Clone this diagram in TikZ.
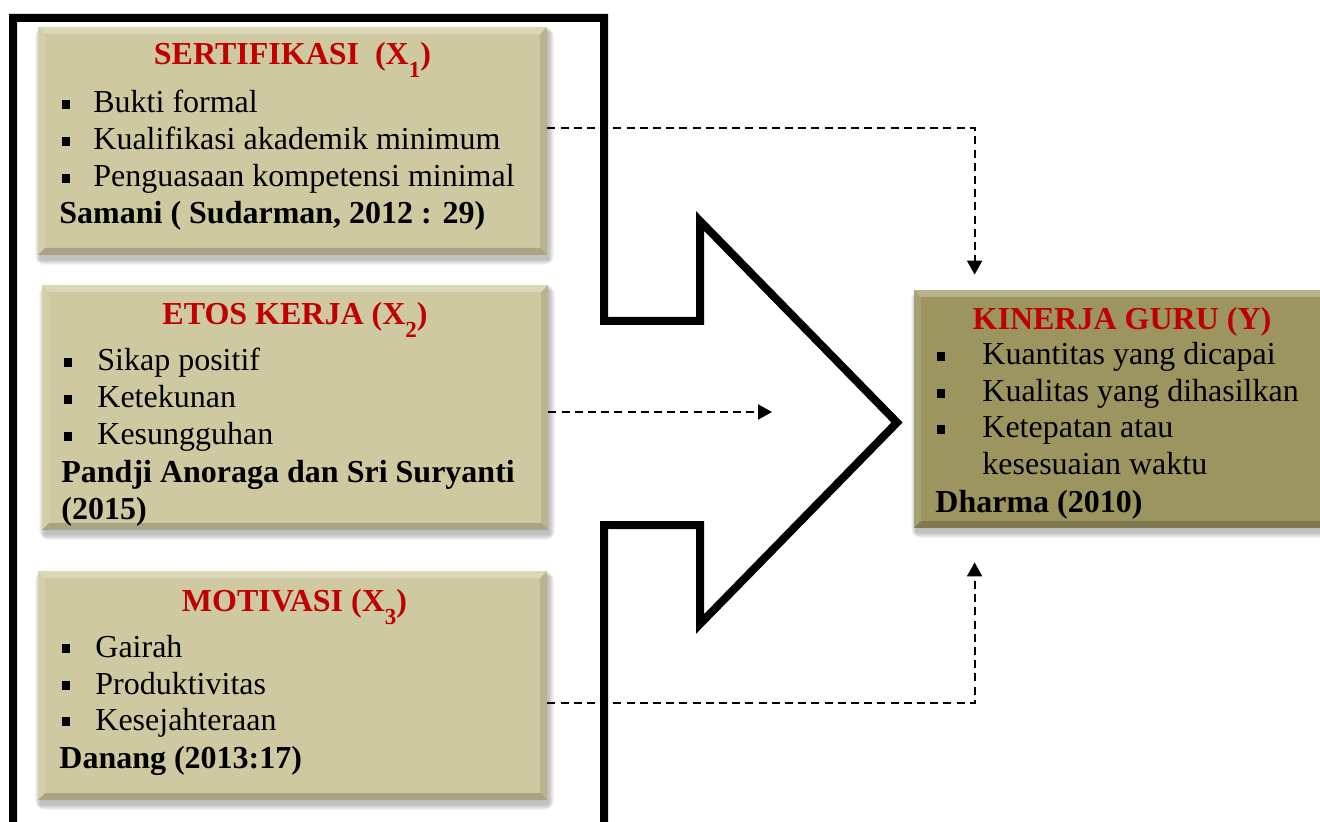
\documentclass[tikz,border=0pt]{standalone}
\usepackage{fontspec}
\setmainfont{Liberation Serif}
\usetikzlibrary{arrows.meta,calc,fit}
\definecolor{boxtan}{HTML}{CEC9A0}
\definecolor{boxolive}{HTML}{9C9560}
\definecolor{titlered}{HTML}{C00000}
\newcommand\sbx[1]{\raisebox{-6.5pt}{\fontsize{11.5pt}{11.5pt}\selectfont #1}}
\newcommand\itm[2]{\llap{\rule[2pt]{4.4pt}{4.4pt}\hspace{#1pt}}#2}
\newcommand\bevelbox[6]{%
  \foreach \k in {0,...,5}{\fill[black,opacity=0.045,rounded corners=\k pt] (#2+2-\k,#3+5-\k) rectangle (#4+2+\k,#5+5+\k);}
  \node[fit={(#2,#3)(#4,#5)},inner sep=0pt,fill=#6] (#1) {};
  \fill[white,opacity=0.28] (#2,#3) -- (#4,#3) -- (#4-7,#3+7) -- (#2+7,#3+7) -- cycle;
  \fill[white,opacity=0.12] (#2,#3) -- (#2+7,#3+7) -- (#2+7,#5-7) -- (#2,#5) -- cycle;
  \fill[black,opacity=0.18] (#2,#5) -- (#2+7,#5-7) -- (#4-7,#5-7) -- (#4,#5) -- cycle;
  \fill[black,opacity=0.10] (#4,#3) -- (#4,#5) -- (#4-7,#5-7) -- (#4-7,#3+7) -- cycle;
}
\tikzset{
  txt/.style={font=\fontsize{16pt}{19pt}\selectfont, inner sep=0pt, anchor=base west},
  cite/.style={font=\fontsize{16pt}{19pt}\selectfont\bfseries, inner sep=0pt, anchor=base west},
  ttl/.style={font=\fontsize{16pt}{19pt}\selectfont\bfseries, text=titlered, inner sep=0pt, anchor=base},
  conn/.style={line width=1pt, dash pattern=on 4pt off 2.6pt, -{Triangle[length=7pt,width=7.5pt]}},
  bigarrow/.style={line width=4pt, line join=miter}
}
\begin{document}
\begin{tikzpicture}[x=0.5pt,y=-0.5pt]
\useasboundingbox (0,0) rectangle (1320,822);
\clip (0,0) rectangle (1320,822);
\fill[white] (0,0) rectangle (1320,822);
% big block arrow outline
\draw[bigarrow] (13,840) -- (13,18) -- (604,18) -- (604,321) -- (700,321) -- (700,221)
  -- (897,422.5) -- (700,624) -- (700,525) -- (604,525) -- (604,840);
% boxes
\bevelbox{box1}{38}{27}{547}{255}{boxtan}
\bevelbox{box2}{42}{285}{548}{530}{boxtan}
\bevelbox{box3}{38}{571}{547}{800}{boxtan}
\bevelbox{ybox}{914}{290}{1330}{528}{boxolive}
% box 1
\node[ttl] (t1) at (292.5,65) {SERTIFIKASI\ \ (X\sbx{1})};
\node[txt] (a1) at (93,113) {\itm{11.5}{Bukti formal}};
\node[txt] (b1) at (93,150) {\itm{11.5}{Kualifikasi akademik minimum}};
\node[txt] (c1) at (93,187) {\itm{11.5}{Penguasaan kompetensi minimal}};
\node[cite] (s1) at (59,224) {Samani ( Sudarman, 2012 : 29)};
% box 2
\node[ttl] (t2) at (295,325) {ETOS KERJA (X\sbx{2})};
\node[txt] (a2) at (97,371) {\itm{12.5}{Sikap positif}};
\node[txt] (b2) at (97,408) {\itm{12.5}{Ketekunan}};
\node[txt] (c2) at (97,445) {\itm{12.5}{Kesungguhan}};
\node[cite] (s2) at (61,483) {Pandji Anoraga dan Sri Suryanti};
\node[cite] (s2b) at (61,519) {(2015)};
% box 3
\node[ttl] (t3) at (294.5,611) {MOTIVASI (X\sbx{3})};
\node[txt] (a3) at (95,657) {\itm{12.5}{Gairah}};
\node[txt] (b3) at (95,694) {\itm{12.5}{Produktivitas}};
\node[txt] (c3) at (95,730) {\itm{12.5}{Kesejahteraan}};
\node[cite] (s3) at (59,768) {Danang (2013:17)};
% box Y
\node[ttl] (ty) at (1122,330) {KINERJA GURU (Y)};
\node[txt] (ay) at (982,365) {\itm{18.5}{Kuantitas yang dicapai}};
\node[txt] (by) at (982,402) {\itm{18.5}{Kualitas yang dihasilkan}};
\node[txt] (cy) at (982,438) {\itm{18.5}{Ketepatan atau}};
\node[txt] (dy) at (982,475) {kesesuaian waktu};
\node[cite] (sy) at (935,513) {Dharma (2010)};
% connectors
\coordinate (mid) at (772,412);
\draw[conn] ($(box1.east)+(0,-13)$) -| ($(ybox.north west)+(61,-15)$);
\draw[conn] ($(box2.east)+(0,4.5)$) -- (mid);
\draw[conn] ($(box3.east)+(0,17.5)$) -| ($(ybox.south west)+(61,34)$);
\end{tikzpicture}
\end{document}
